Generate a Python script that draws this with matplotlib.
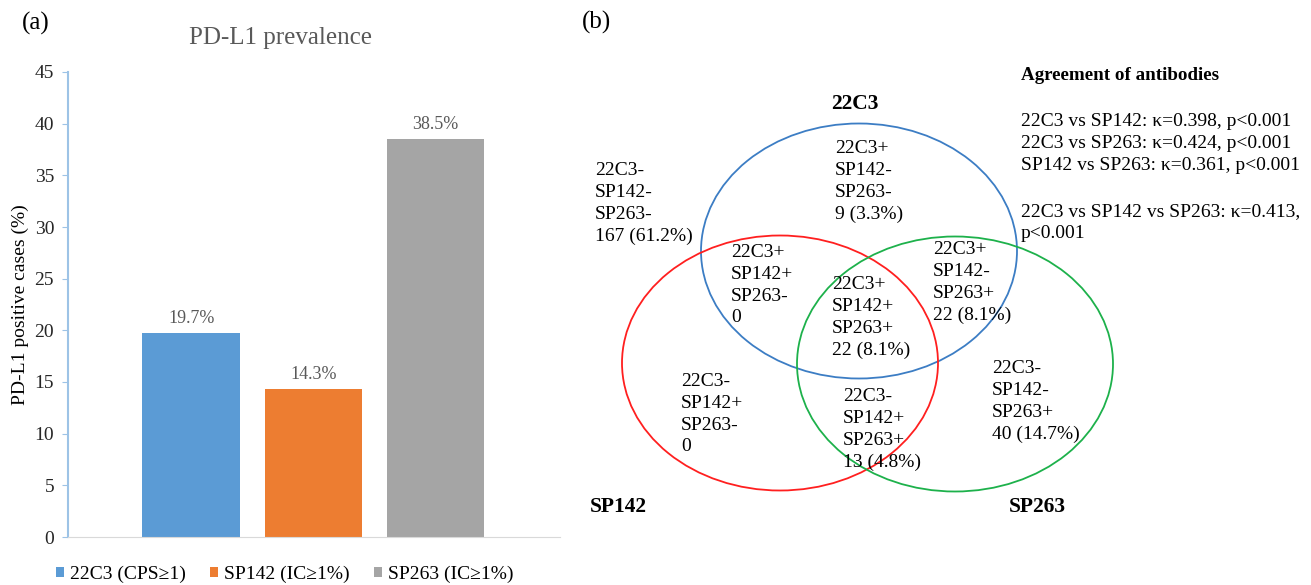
import numpy as np
import matplotlib.pyplot as plt
from matplotlib.patches import Ellipse

plt.rcParams['font.family'] = ['Liberation Serif', 'DejaVu Serif']

# panel (a) data
categories = ["22C3 (CPS\u22651)", "SP142 (IC\u22651%)", "SP263 (IC\u22651%)"]
prevalence = [19.7, 14.3, 38.5]
bar_colors = ["#5B9BD5", "#ED7D31", "#A5A5A5"]
yticks = [0, 5, 10, 15, 20, 25, 30, 35, 40, 45]

# panel (b) data: region sign patterns, counts, percentages
region_signs = [("-", "-", "-"), ("+", "-", "-"), ("+", "+", "-"), ("+", "+", "+"),
                ("+", "-", "+"), ("-", "+", "-"), ("-", "+", "+"), ("-", "-", "+")]
region_counts = [167, 9, 0, 22, 22, 0, 13, 40]
region_pcts = [61.2, 3.3, 0.0, 8.1, 8.1, 0.0, 4.8, 14.7]
antibodies = ["22C3", "SP142", "SP263"]
pairs = ["22C3 vs SP142", "22C3 vs SP263", "SP142 vs SP263"]
kappas = [0.398, 0.424, 0.361]
kappa_all = 0.413

W, H = 1311, 585
fig = plt.figure(figsize=(W / 100, H / 100), dpi=100)

# ---- (a) bar chart ----
ax = fig.add_axes([68 / W, (H - 537) / H, (560 - 68) / W, (537 - 72) / H])
x = np.arange(len(categories))
bars = ax.bar(x, prevalence, width=0.8, color=bar_colors, label=categories)
for b, v in zip(bars, prevalence):
    ax.text(b.get_x() + b.get_width() / 2, v + 0.6, f"{v}%", ha="center", va="bottom",
            fontsize=13, color="#595959")
ax.set_xlim(-1.01, 3.02)
ax.set_ylim(0, 45)
ax.set_yticks(yticks)
ax.set_xticks([])
ax.tick_params(axis="y", labelsize=14, colors="#9DC3E6", labelcolor="#262626",
               length=4, direction="out", pad=6)
for s in ["top", "right"]:
    ax.spines[s].set_visible(False)
ax.spines["left"].set_color("#9DC3E6")
ax.spines["left"].set_linewidth(1.5)
ax.spines["bottom"].set_color("#D9D9D9")
ax.set_ylabel("PD-L1 positive cases (%)", fontsize=14, labelpad=4)
ax.text(0.431, 1 + 34 / 465, "PD-L1 prevalence", transform=ax.transAxes,
        fontsize=18, color="#595959", ha="center", va="center")
ax.legend(loc="center left", bbox_to_anchor=(-0.024, -37 / 465), ncol=3, frameon=False,
          fontsize=14, handlelength=0.4, handleheight=0.4, handletextpad=0.3,
          columnspacing=1.26, borderaxespad=0, borderpad=0)
fig.text(22 / W, 1 - 23 / H, "(a)", fontsize=18, va="center", ha="left")
fig.text(582 / W, 1 - 22 / H, "(b)", fontsize=18, va="center", ha="left")

# ---- (b) Venn diagram ----
vx0 = 575
ax2 = fig.add_axes([vx0 / W, 0, (W - vx0) / W, 1])
ax2.set_xlim(vx0, W)
ax2.set_ylim(H, 0)
ax2.axis("off")

circles = {"22C3": (859, 251, "#3C7DC4"),
           "SP142": (780, 363, "#FF1F1F"),
           "SP263": (955, 364, "#1DB14B")}
for name in antibodies:
    cx, cy, col = circles[name]
    ax2.add_patch(Ellipse((cx, cy), 316, 255, fill=False, edgecolor=col, lw=1.3))

ax2.text(855, 104, antibodies[0], fontsize=15.5, fontweight="bold", ha="center", va="center")
ax2.text(618, 507, antibodies[1], fontsize=15.5, fontweight="bold", ha="center", va="center")
ax2.text(1037, 507, antibodies[2], fontsize=15.5, fontweight="bold", ha="center", va="center")

region_pos = [(595, 162), (835, 140), (731, 244), (832, 276),
              (933, 241), (681, 373), (843, 388), (992, 360)]
for signs, n, p, (tx, ty) in zip(region_signs, region_counts, region_pcts, region_pos):
    lines = [a + s for a, s in zip(antibodies, signs)]
    lines.append(f"{n} ({p}%)" if n > 0 else "0")
    ax2.text(tx, ty, "\n".join(lines), fontsize=14, ha="left", va="top", linespacing=1.37)

ax2.text(1021, 76, "Agreement of antibodies", fontsize=13.7, fontweight="bold",
         ha="left", va="center")
kappa_lines = [f"{pr}: \u03ba={k:.3f}, p<0.001" for pr, k in zip(pairs, kappas)]
ax2.text(1021, 113, "\n".join(kappa_lines), fontsize=14, ha="left", va="top", linespacing=1.37)
ax2.text(1021, 203, f"22C3 vs SP142 vs SP263: \u03ba={kappa_all:.3f},\np<0.001",
         fontsize=14, ha="left", va="top", linespacing=1.37)

fig.savefig("out.png", dpi=100)
